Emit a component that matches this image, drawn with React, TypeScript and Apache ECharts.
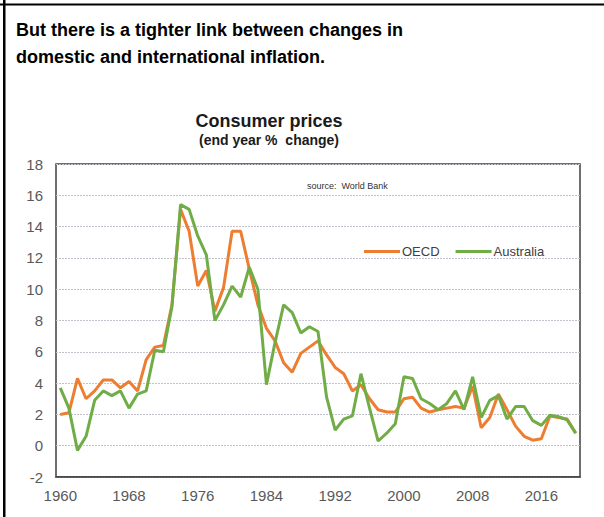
import React, { useEffect, useRef } from "react";
import * as echarts from "echarts";

const years: string[] = [
  "1960","1961","1962","1963","1964","1965","1966","1967","1968","1969",
  "1970","1971","1972","1973","1974","1975","1976","1977","1978","1979",
  "1980","1981","1982","1983","1984","1985","1986","1987","1988","1989",
  "1990","1991","1992","1993","1994","1995","1996","1997","1998","1999",
  "2000","2001","2002","2003","2004","2005","2006","2007","2008","2009",
  "2010","2011","2012","2013","2014","2015","2016","2017","2018","2019",
  "2020",
];

const oecd: number[] = [
  2.0, 2.1, 4.3, 3.0, 3.5, 4.2, 4.2, 3.7, 4.1, 3.5,
  5.5, 6.3, 6.4, 9.0, 15.1, 13.7, 10.2, 11.2, 8.6, 10.1,
  13.7, 13.7, 11.3, 9.0, 7.5, 6.7, 5.3, 4.7, 5.9, 6.3,
  6.7, 5.8, 5.0, 4.6, 3.5, 3.9, 3.0, 2.3, 2.15, 2.15,
  3.0, 3.1, 2.4, 2.15, 2.3, 2.4, 2.5, 2.4, 3.8, 1.15,
  1.8, 3.3, 2.3, 1.25, 0.6, 0.35, 0.45, 1.9, 1.8, 1.7,
  0.8,
];

const australia: number[] = [
  3.7, 2.4, -0.3, 0.6, 2.9, 3.5, 3.2, 3.5, 2.4, 3.3,
  3.5, 6.1, 6.0, 8.9, 15.4, 15.1, 13.4, 12.2, 8.0, 9.0,
  10.2, 9.5, 11.4, 10.0, 3.9, 6.6, 9.0, 8.5, 7.2, 7.6,
  7.3, 3.1, 1.0, 1.7, 1.9, 4.6, 2.4, 0.3, 0.8, 1.4,
  4.4, 4.3, 3.0, 2.7, 2.3, 2.7, 3.5, 2.3, 4.4, 1.8,
  2.9, 3.2, 1.7, 2.5, 2.5, 1.6, 1.3, 1.95, 1.85, 1.65,
  0.8,
];

const headingLines: string[] = [
  "But there is a tighter link between changes in",
  "domestic and international inflation.",
];
const chartTitle = "Consumer prices";
const chartSubtitle = "(end year %  change)";
const sourceText = "source:  World Bank";

const FONT = '"Liberation Sans", Arial, Helvetica, sans-serif';

export default function App() {
  const ref = useRef<HTMLDivElement>(null);

  useEffect(() => {
    if (!ref.current) return;
    const chart = echarts.init(ref.current, null, { renderer: "svg" });
    chart.setOption({
      animation: false,
      backgroundColor: "#ffffff",
      textStyle: { fontFamily: FONT },
      grid: {
        left: 56,
        top: 164,
        right: 24,
        bottom: 40,
        show: true,
        borderColor: "#404040",
        borderWidth: 1.5,
        backgroundColor: "transparent",
      },
      legend: {
        left: 359,
        top: 240,
        icon: "rect",
        itemWidth: 36,
        itemHeight: 3,
        itemGap: 16,
        textStyle: { fontFamily: FONT, fontSize: 13, color: "#404040", padding: [0, 0, 0, -3] },
        data: ["OECD", "Australia"],
      },
      xAxis: {
        type: "category",
        data: years,
        boundaryGap: true,
        axisTick: { show: false },
        axisLine: { show: true, onZero: false, lineStyle: { color: "#404040", width: 1.5 } },
        axisLabel: {
          interval: 7,
          margin: 11,
          fontSize: 15,
          color: "#595959",
          fontFamily: FONT,
        },
        splitLine: { show: false },
      },
      yAxis: {
        type: "value",
        min: -2,
        max: 18,
        interval: 2,
        axisLine: { show: false },
        axisTick: { show: false },
        axisLabel: {
          margin: 13,
          fontSize: 15,
          color: "#595959",
          fontFamily: FONT,
        },
        splitLine: {
          show: true,
          lineStyle: { color: "#c4c2cc", width: 1, type: [2, 1] },
        },
      },
      series: [
        {
          name: "OECD",
          type: "line",
          data: oecd,
          symbol: "none",
          itemStyle: { color: "#ED7D31" },
          lineStyle: { color: "#ED7D31", width: 3 },
        },
        {
          name: "Australia",
          type: "line",
          data: australia,
          symbol: "none",
          itemStyle: { color: "#70AD47" },
          lineStyle: { color: "#70AD47", width: 3 },
        },
      ],
      graphic: [
        { type: "rect", shape: { x: 3, y: 0, width: 2.5, height: 517 }, style: { fill: "#000" } },
        { type: "rect", shape: { x: 0, y: 3.5, width: 604, height: 2 }, style: { fill: "#000" } },
        {
          type: "text",
          x: 16,
          y: 30,
          style: {
            text: headingLines[0],
            font: `bold 18px ${FONT}`,
            fill: "#000",
            textAlign: "left",
            verticalAlign: "middle",
          },
        },
        {
          type: "text",
          x: 16,
          y: 56.5,
          style: {
            text: headingLines[1],
            font: `bold 18px ${FONT}`,
            fill: "#000",
            textAlign: "left",
            verticalAlign: "middle",
          },
        },
        {
          type: "text",
          x: 269,
          y: 120.5,
          style: {
            text: chartTitle,
            font: `bold 18px ${FONT}`,
            fill: "#1a1a1a",
            textAlign: "center",
            verticalAlign: "middle",
          },
        },
        {
          type: "text",
          x: 269,
          y: 139.5,
          style: {
            text: chartSubtitle,
            font: `bold 14px ${FONT}`,
            fill: "#1a1a1a",
            textAlign: "center",
            verticalAlign: "middle",
          },
        },
        {
          type: "text",
          x: 307,
          y: 186,
          style: {
            text: sourceText,
            font: `9px ${FONT}`,
            fill: "#333",
            textAlign: "left",
            verticalAlign: "middle",
          },
        },
      ],
    });
    return () => chart.dispose();
  }, []);

  return (
    <div
      ref={ref}
      style={{ position: "fixed", left: 0, top: 0, width: 604, height: 517, background: "#fff" }}
    />
  );
}
